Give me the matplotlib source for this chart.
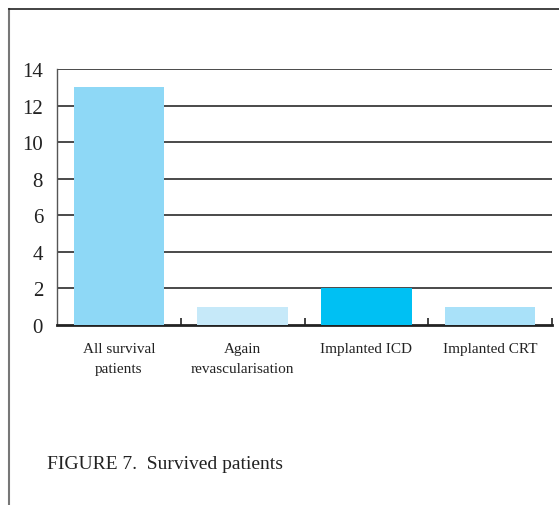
import matplotlib
matplotlib.use("Agg")
import matplotlib.pyplot as plt
from matplotlib.lines import Line2D
from matplotlib.ticker import FixedLocator, NullFormatter

categories = ["All survival\npatients", "Again\nrevascularisation", "Implanted ICD", "Implanted CRT"]
values = [13, 1, 2, 1]
bar_colors = ["#8ED8F6", "#C6E9F9", "#00C0F3", "#A9E1F9"]
y_ticks = [0, 2, 4, 6, 8, 10, 12, 14]
caption = "FIGURE 7.  Survived patients"

plt.rcParams["font.family"] = ["Liberation Serif", "DejaVu Serif"]

fig = plt.figure(figsize=(5.59, 5.06), dpi=100)
ax = fig.add_axes([57/559, 1-326/506, (552-57)/559, (326-70)/506])

x = list(range(len(categories)))
ax.bar(x, values, width=0.73, color=bar_colors, zorder=3)
ax.set_xlim(-0.5, len(categories) - 0.5)
ax.set_ylim(0, 14)

ax.set_yticks(y_ticks)
ax.set_yticklabels([str(t) for t in y_ticks], fontsize=15, color="#222222")
ax.tick_params(axis="y", length=0, pad=10)
for t in y_ticks[1:]:
    ax.axhline(t, color="#3c3c3c", lw=1.3, zorder=1)

ax.set_xticks(x)
ax.set_xticklabels(categories, fontsize=11, color="#222222", linespacing=1.75)
ax.tick_params(axis="x", which="major", length=0, pad=12)
ax.xaxis.set_minor_locator(FixedLocator([i + 0.5 for i in range(len(categories))]))
ax.xaxis.set_minor_formatter(NullFormatter())
ax.tick_params(axis="x", which="minor", direction="in", length=5, width=1.2, color="#222222")

for s in ["top", "right"]:
    ax.spines[s].set_visible(False)
ax.spines["left"].set_color("#555555")
ax.spines["left"].set_linewidth(1.0)
ax.spines["bottom"].set_color("#222222")
ax.spines["bottom"].set_linewidth(2.0)

# outer frame lines
fig.add_artist(Line2D([9/559, 9/559], [0, 1-10/506], transform=fig.transFigure, color="#777777", lw=1.5))
fig.add_artist(Line2D([9/559, 1], [1-10/506, 1-10/506], transform=fig.transFigure, color="#222222", lw=1.2))

fig.text(47/559, 1-465/506, caption, fontsize=14, color="#222222", va="center", ha="left")

fig.savefig("out.png", dpi=100)
